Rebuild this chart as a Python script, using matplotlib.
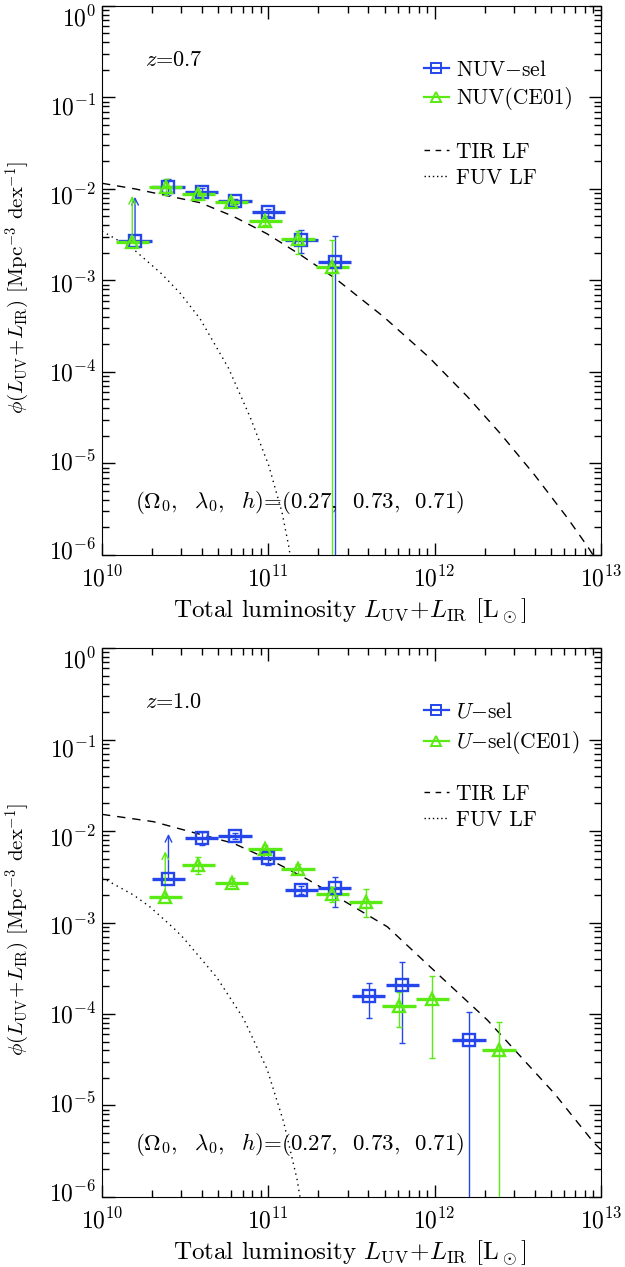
import numpy as np
import matplotlib
matplotlib.use("Agg")
import matplotlib.pyplot as plt
import matplotlib.transforms as mtransforms
from matplotlib.lines import Line2D

plt.rcParams['font.family'] = 'cmr10'
plt.rcParams['mathtext.fontset'] = 'cm'
plt.rcParams['axes.formatter.use_mathtext'] = True
plt.rcParams['axes.unicode_minus'] = False

BLUE = '#2446ea'
GREEN = '#5aea14'

# ---- z = 0.7 panel ----
nuv_L = [1.58e10, 2.51e10, 3.98e10, 6.31e10, 1.0e11, 1.58e11, 2.51e11]
nuv_phi = [2.72e-3, 1.06e-2, 9.35e-3, 7.3e-3, 5.56e-3, 2.77e-3, 1.6e-3]
nuv_lo = [np.nan, 8.6e-3, 8.6e-3, 6.8e-3, 5.0e-3, 2.0e-3, 1e-9]
nuv_hi = [8.2e-3, 1.27e-2, 1.02e-2, 7.8e-3, 6.1e-3, 3.56e-3, 3.06e-3]
nuv_limit = [True, False, False, False, False, False, False]

nuvce_L = [1.52e10, 2.42e10, 3.8e10, 6.0e10, 9.6e10, 1.51e11, 2.42e11]
nuvce_phi = [2.61e-3, 1.04e-2, 8.8e-3, 7.15e-3, 4.47e-3, 2.82e-3, 1.42e-3]
nuvce_lo = [np.nan, 8.5e-3, 8.1e-3, 6.6e-3, 4.0e-3, 1.95e-3, 1e-9]
nuvce_hi = [8.4e-3, 1.27e-2, 9.6e-3, 7.7e-3, 4.9e-3, 3.5e-3, 2.77e-3]
nuvce_limit = [True, False, False, False, False, False, False]

tir07_logL = [10.0, 10.2, 10.59, 10.79, 10.992, 11.193, 11.404, 11.695, 11.966,
              12.197, 12.398, 12.598, 12.80, 12.92, 12.97]
tir07_logphi = [-1.938, -2.00, -2.15, -2.30, -2.49, -2.72, -2.98, -3.40, -3.84,
                -4.27, -4.68, -5.12, -5.60, -5.91, -6.05]
fuv07_logL = [10.0, 10.19, 10.36, 10.47, 10.59, 10.761, 10.892, 11.002, 11.083, 11.122, 11.135]
fuv07_logphi = [-2.46, -2.66, -2.93, -3.14, -3.42, -3.96, -4.50, -5.02, -5.54, -5.90, -6.05]

# ---- z = 1.0 panel ----
u_L = [2.51e10, 3.98e10, 6.31e10, 1.0e11, 1.58e11, 2.51e11, 4.02e11, 6.38e11, 1.61e12]
u_phi = [2.99e-3, 8.3e-3, 8.9e-3, 5.03e-3, 2.27e-3, 2.37e-3, 1.57e-4, 2.07e-4, 5.2e-5]
u_lo = [np.nan, 7.0e-3, 8.2e-3, 4.25e-3, 2.05e-3, 1.49e-3, 8.97e-5, 4.8e-5, 1e-9]
u_hi = [9.3e-3, 9.8e-3, 9.6e-3, 5.8e-3, 2.5e-3, 3.17e-3, 2.2e-4, 3.67e-4, 1.05e-4]
u_limit = [True, False, False, False, False, False, False, False, False]

uce_L = [2.4e10, 3.8e10, 6.03e10, 9.55e10, 1.51e11, 2.42e11, 3.84e11, 6.1e11, 9.68e11, 2.44e12]
uce_phi = [1.91e-3, 4.25e-3, 2.72e-3, 6.36e-3, 3.81e-3, 2.05e-3, 1.69e-3, 1.23e-4, 1.45e-4, 4.04e-5]
uce_lo = [np.nan, 3.39e-3, 2.5e-3, 5.7e-3, 3.36e-3, 1.69e-3, 1.14e-3, 7.26e-5, 3.28e-5, 1e-9]
uce_hi = [6.0e-3, 5.2e-3, 3.04e-3, 7.0e-3, 4.32e-3, 2.47e-3, 2.31e-3, 1.75e-4, 2.62e-4, 8.24e-5]
uce_limit = [True, False, False, False, False, False, False, False, False, False]

tir10_logL = [10.0, 10.309, 10.51, 10.791, 11.032, 11.243, 11.715, 12.036, 12.317,
              12.518, 12.719, 12.96, 13.01]
tir10_logphi = [-1.818, -1.898, -1.997, -2.135, -2.335, -2.536, -3.046, -3.592, -4.066,
                -4.467, -4.867, -5.413, -5.50]
fuv10_logL = [10.0, 10.19, 10.289, 10.43, 10.49, 10.69, 10.851, 10.992, 11.092, 11.173, 11.195]
fuv10_logphi = [-2.51, -2.70, -2.83, -3.06, -3.17, -3.60, -4.05, -4.60, -5.18, -5.81, -6.05]

yticks = [1e-6, 1e-5, 1e-4, 1e-3, 1e-2, 1e-1, 1e0]


def draw_points(ax, L, phi, lo, hi, limit, color, marker):
    L = np.array(L)
    phi = np.array(phi)
    lo = np.array(lo)
    hi = np.array(hi)
    limit = np.array(limit)
    # luminosity bins (0.2 dex wide)
    ax.hlines(phi, L / 10**0.1, L * 10**0.1, color=color, lw=2.4, zorder=3)
    ok = ~limit
    ax.errorbar(L[ok], phi[ok], yerr=[phi[ok] - lo[ok], hi[ok] - phi[ok]], fmt='none',
                ecolor=color, elinewidth=1, capsize=2.5, capthick=1, zorder=3)
    ax.plot(L, phi, ls='none', marker=marker, mfc='none', mec=color, ms=8.5, mew=1.7, zorder=4)
    # lower limits
    for x, y, top in zip(L[limit], phi[limit], hi[limit]):
        ax.annotate('', xy=(x, top), xytext=(x, y),
                    arrowprops=dict(arrowstyle='->', color=color, lw=1,
                                    shrinkA=0, shrinkB=0, mutation_scale=12))


def setup_panel(ax, zlabel, lab1, lab2):
    ax.set_xscale('log')
    ax.set_yscale('log')
    ax.set_xlim(1e10, 1e13)
    ax.set_ylim(1e-6, 1)
    ax.set_yticks(yticks)
    ax.tick_params(which='both', direction='in', top=True, right=True, labelsize=17)
    ax.tick_params(which='major', length=9, width=1)
    ax.tick_params(which='minor', length=5, width=1)
    ax.tick_params(axis='x', pad=8)
    ax.tick_params(axis='y', pad=4)
    # labels sit slightly off their ticks as in the original
    for k, tick in enumerate(ax.yaxis.get_major_ticks()):
        dy = (6 - 2.7 * k) / 100.0
        off = mtransforms.ScaledTranslation(0, dy, ax.figure.dpi_scale_trans)
        tick.label1.set_transform(tick.label1.get_transform() + off)
    ax.set_xlabel(r'Total luminosity $L_{\rm UV}\!+\!L_{\rm IR}$ [L$_\odot$]', fontsize=18)
    ax.set_ylabel(r'$\phi(L_{\rm UV}\!+\!L_{\rm IR})$ [Mpc$^{-3}$ dex$^{-1}$]', fontsize=15)
    ax.xaxis.set_label_coords(0.497, -0.076)
    ax.yaxis.set_label_coords(-0.14, 0.488)
    ax.text(0.086, 0.902, zlabel, transform=ax.transAxes, fontsize=16, va='center')
    ax.text(0.066, 0.095, r'$(\Omega_0,\ \ \lambda_0,\ \ h)$=(0.27,  0.73,  0.71)',
            transform=ax.transAxes, fontsize=16.5, va='center')

    h1 = [Line2D([], [], color=BLUE, marker='s', mfc='none', mec=BLUE, ms=7, mew=1.4, lw=1.6),
          Line2D([], [], color=GREEN, marker='^', mfc='none', mec=GREEN, ms=7, mew=1.4, lw=1.6)]
    leg1 = ax.legend(h1, [lab1, lab2], loc='upper left', bbox_to_anchor=(0.645, 0.902),
                     frameon=False, fontsize=15.5, handlelength=1.15, handletextpad=0.35,
                     borderpad=0, borderaxespad=0, labelspacing=0.35)
    ax.add_artist(leg1)
    h2 = [Line2D([], [], color='black', ls=(0, (4, 4)), lw=1),
          Line2D([], [], color='black', ls=(0, (1, 2)), lw=1)]
    ax.legend(h2, ['TIR LF', 'FUV LF'], loc='upper left', bbox_to_anchor=(0.645, 0.752),
              frameon=False, fontsize=15.5, handlelength=1.15, handletextpad=0.35,
              borderpad=0, borderaxespad=0, labelspacing=0.3)


fig = plt.figure(figsize=(6.25, 12.67), dpi=100)

ax1 = fig.add_axes([0.1632, 0.5620, 0.7984, 0.4333])
ax1.plot(10**np.array(tir07_logL), 10**np.array(tir07_logphi), color='black', lw=1, ls=(0, (6, 5)))
ax1.plot(10**np.array(fuv07_logL), 10**np.array(fuv07_logphi), color='black', lw=1, ls=(0, (1, 3)))
draw_points(ax1, nuv_L, nuv_phi, nuv_lo, nuv_hi, nuv_limit, BLUE, 's')
draw_points(ax1, nuvce_L, nuvce_phi, nuvce_lo, nuvce_hi, nuvce_limit, GREEN, '^')
setup_panel(ax1, r'$z$=0.7', r'NUV$-$sel', 'NUV(CE01)')

ax2 = fig.add_axes([0.1632, 0.05525, 0.7984, 0.4333])
ax2.plot(10**np.array(tir10_logL), 10**np.array(tir10_logphi), color='black', lw=1, ls=(0, (6, 5)))
ax2.plot(10**np.array(fuv10_logL), 10**np.array(fuv10_logphi), color='black', lw=1, ls=(0, (1, 3)))
draw_points(ax2, u_L, u_phi, u_lo, u_hi, u_limit, BLUE, 's')
draw_points(ax2, uce_L, uce_phi, uce_lo, uce_hi, uce_limit, GREEN, '^')
setup_panel(ax2, r'$z$=1.0', r'$U$$-$sel', r'$U$$-$sel(CE01)')

fig.savefig('out.png', dpi=100)
